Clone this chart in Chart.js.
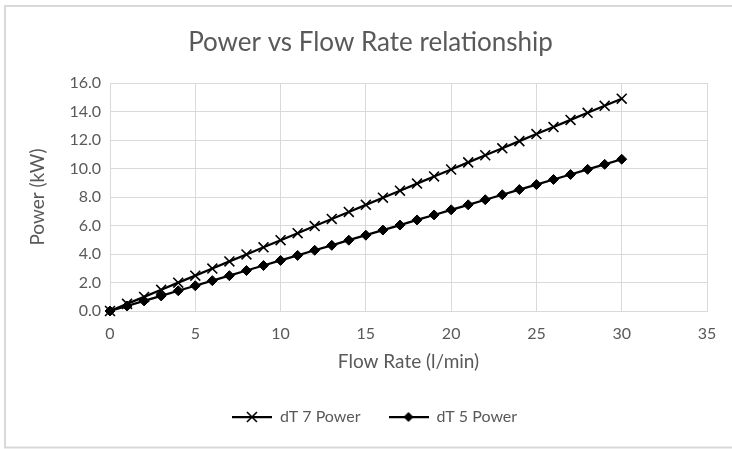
<!DOCTYPE html>
<html>
<head>
<meta charset="utf-8">
<script src="https://cdn.jsdelivr.net/npm/chart.js@4/dist/chart.umd.min.js"></script>
<style>
  html, body { margin: 0; padding: 0; background: #ffffff; }
  #wrap { position: relative; width: 732px; height: 449px; }
</style>
</head>
<body>
<div id="wrap"><canvas id="c" width="732" height="449"></canvas></div>
<script>
const chartTitle = "Power vs Flow Rate relationship";
const xAxisTitle = "Flow Rate (l/min)";
const yAxisTitle = "Power (kW)";
const seriesNames = ["dT 7 Power", "dT 5 Power"];
const flowRate = [0,1,2,3,4,5,6,7,8,9,10,11,12,13,14,15,16,17,18,19,20,21,22,23,24,25,26,27,28,29,30];
const dT7Power = [0,0.50,0.99,1.49,1.99,2.48,2.98,3.48,3.97,4.47,4.97,5.46,5.96,6.46,6.95,7.45,7.95,8.44,8.94,9.44,9.93,10.43,10.93,11.42,11.92,12.42,12.91,13.41,13.91,14.40,14.90];
const dT5Power = [0,0.35,0.71,1.06,1.42,1.77,2.13,2.48,2.84,3.19,3.55,3.90,4.26,4.61,4.97,5.32,5.68,6.03,6.39,6.74,7.10,7.45,7.81,8.16,8.52,8.87,9.23,9.58,9.94,10.29,10.65];
const xTicks = { min: 0, max: 35, step: 5 };
const yTicks = { min: 0, max: 16, step: 2 };

const FONT = "Lato, 'Open Sans', sans-serif";
const TXT = "#595959";
const GRID = "#d9d9d9";

function legendIcon(kind) {
  const cv = document.createElement('canvas');
  cv.width = 40; cv.height = 14;
  const g = cv.getContext('2d');
  g.strokeStyle = '#000'; g.fillStyle = '#000';
  g.lineWidth = 2.25;
  g.beginPath(); g.moveTo(0, 7); g.lineTo(40, 7); g.stroke();
  if (kind === 'x') {
    g.lineWidth = 1.6;
    g.beginPath();
    g.moveTo(15, 2); g.lineTo(25, 12);
    g.moveTo(25, 2); g.lineTo(15, 12);
    g.stroke();
  } else {
    g.beginPath();
    g.moveTo(20, 2); g.lineTo(25, 7); g.lineTo(20, 12); g.lineTo(15, 7); g.closePath();
    g.fill();
  }
  return cv;
}
const icons = [legendIcon('x'), legendIcon('d')];

const borderPlugin = {
  id: 'outerBorder',
  beforeDraw(chart) {
    const ctx = chart.ctx;
    ctx.save();
    ctx.fillStyle = '#ffffff';
    ctx.fillRect(0, 0, chart.width, chart.height);
    ctx.strokeStyle = GRID;
    ctx.lineWidth = 2;
    ctx.strokeRect(5, 6, 740, 441.5);
    ctx.restore();
    if (chart.legend && !chart.legend._shifted) {
      chart.legend.left += 11;
      chart.legend.right += 11;
      chart.legend._shifted = true;
    }
    if (chart.titleBlock && !chart.titleBlock._shifted) {
      chart.titleBlock.left += 7;
      chart.titleBlock.right += 7;
      chart.titleBlock._shifted = true;
    }
  }
};

new Chart(document.getElementById('c'), {
  type: 'line',
  data: {
    datasets: [
      {
        label: seriesNames[0],
        data: flowRate.map((x, i) => ({ x: x, y: dT7Power[i] })),
        borderColor: '#000', backgroundColor: '#000',
        borderWidth: 2.25,
        pointStyle: 'crossRot', pointRadius: 7, pointBorderWidth: 1.6,
        pointBorderColor: '#000', pointBackgroundColor: '#000',
        tension: 0, clip: false
      },
      {
        label: seriesNames[1],
        data: flowRate.map((x, i) => ({ x: x, y: dT5Power[i] })),
        borderColor: '#000', backgroundColor: '#000',
        borderWidth: 2.25,
        pointStyle: 'rectRot', pointRadius: 5, pointBorderWidth: 1,
        pointBorderColor: '#000', pointBackgroundColor: '#000',
        tension: 0, clip: false
      }
    ]
  },
  options: {
    responsive: false,
    animation: false,
    devicePixelRatio: 1,
    layout: { padding: { top: 27.4, left: 20, right: 25, bottom: 14 } },
    plugins: {
      title: {
        display: true, text: chartTitle, color: TXT,
        font: { family: FONT, size: 26, weight: 'normal', lineHeight: 1.2 },
        padding: { top: 0, bottom: 24.4 }
      },
      legend: {
        position: 'bottom',
        labels: {
          color: TXT,
          font: { family: FONT, size: 16 },
          padding: 28,
          usePointStyle: true,
          pointStyleWidth: 40,
          generateLabels(chart) {
            const items = Chart.defaults.plugins.legend.labels.generateLabels(chart);
            items.forEach((it, i) => { it.pointStyle = icons[i]; });
            return items;
          }
        }
      },
      tooltip: { enabled: false }
    },
    scales: {
      x: {
        type: 'linear',
        min: xTicks.min, max: xTicks.max,
        ticks: { stepSize: xTicks.step, color: TXT, font: { family: FONT, size: 16 }, padding: 13 },
        grid: { color: GRID, lineWidth: 1, drawTicks: false },
        border: { color: GRID, width: 1 },
        title: {
          display: true, text: xAxisTitle, color: TXT,
          font: { family: FONT, size: 19, lineHeight: 1.2 },
          padding: { top: 0, bottom: 7.6 }
        },
        afterFit(s) { s.height = 70; }
      },
      y: {
        type: 'linear',
        min: yTicks.min, max: yTicks.max,
        ticks: {
          stepSize: yTicks.step, color: TXT, font: { family: FONT, size: 16 }, padding: 9,
          callback: v => Number(v).toFixed(1)
        },
        grid: { color: GRID, lineWidth: 1, drawTicks: false },
        border: { color: GRID, width: 1 },
        title: {
          display: true, text: yAxisTitle, color: TXT,
          font: { family: FONT, size: 19, lineHeight: 1.2 },
          padding: { top: 6.6, bottom: 0 }
        },
        afterFit(s) { s.width = 90; }
      }
    }
  },
  plugins: [borderPlugin]
});
</script>
</body>
</html>
